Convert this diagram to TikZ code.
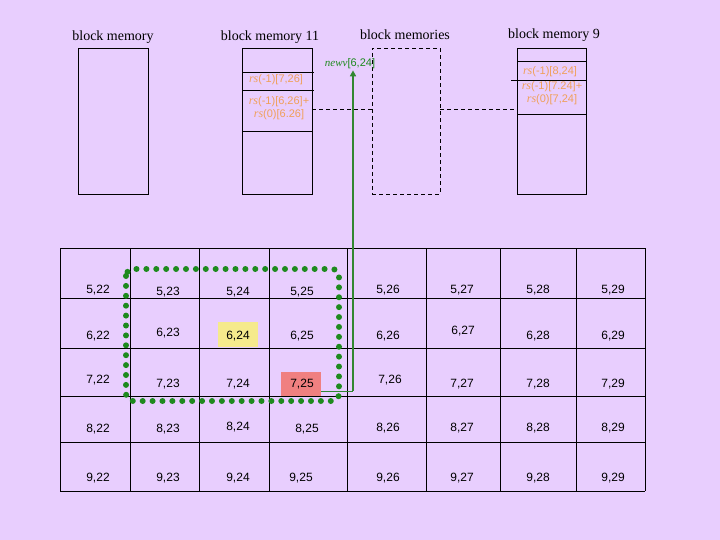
\documentclass[tikz,border=0pt]{standalone}
\usepackage{fontspec}
\setmainfont{Liberation Serif}
\newfontfamily\cellfont{Liberation Sans}
\usetikzlibrary{arrows.meta}
\definecolor{bgc}{RGB}{232,206,254}
\definecolor{orng}{RGB}{240,160,90}
\definecolor{grn}{RGB}{30,138,30}
\definecolor{grnline}{RGB}{50,135,50}
\definecolor{ylw}{RGB}{245,234,140}
\definecolor{redc}{RGB}{240,128,128}
\begin{document}
\begin{tikzpicture}[x=1pt,y=-1pt,
  title/.style={font=\fontsize{14}{14}\selectfont, inner sep=0pt},
  cell/.style={font=\cellfont\fontsize{12}{12}\selectfont, inner sep=0pt},
  orng/.style={text=orng, font=\fontsize{12}{13}\selectfont, inner sep=0pt, align=center},
  blk/.style={draw=black, line width=0.8pt},
  dblk/.style={draw=black, line width=0.8pt, dash pattern=on 4pt off 3pt},
  hl/.style={minimum width=40pt, inner sep=0pt}
]
\fill[bgc] (0,0) rectangle (720,540);
\useasboundingbox (0,0) rectangle (720,540);

% top titles
\node[title] (t1) at (113,37) {block memory};
\node[title] (t2) at (270,37) {block memory 11};
\node[title] (t3) at (405,35) {block memories};
\node[title] (t4) at (554,35) {block memory 9};

% blocks
\node[blk, minimum width=70pt, minimum height=146pt, inner sep=0pt] (b1) at (113,121) {};
\node[blk, minimum width=70pt, minimum height=146pt, inner sep=0pt] (b2) at (277,121) {};
\node[dblk, minimum width=68pt, minimum height=146pt, inner sep=0pt] (b3) at (406,121) {};
\node[blk, minimum width=69pt, minimum height=146pt, inner sep=0pt] (b4) at (551.5,121) {};

% separators block 11
\draw[line width=0.8pt] (242,72) -- (314,72);
\draw[line width=0.8pt] (242,90) -- (314,90);
\draw[line width=0.8pt] (242,131) -- (312,131);
% separators block 9
\draw[line width=0.8pt] (517,61) -- (586,61);
\draw[line width=0.8pt] (511,80) -- (586,80);
\draw[line width=0.8pt] (517,114) -- (586,114);

% orange texts
\node[orng] (o1) at (276,80) {\textit{rs}{\cellfont\fontsize{11}{12}\selectfont(-1)[7,26]}};
\node[orng] (o2) at (279,108) {\textit{rs}{\cellfont\fontsize{11}{12}\selectfont(-1)[6,26]+}\\\textit{rs}{\cellfont\fontsize{11}{12}\selectfont(0)[6.26]}};
\node[orng] (o3) at (550,72) {\textit{rs}{\cellfont\fontsize{11}{12}\selectfont(-1)[8,24]}};
\node[orng] (o4) at (552,93) {\textit{rs}{\cellfont\fontsize{11}{12}\selectfont(-1)[7.24]+}\\\textit{rs}{\cellfont\fontsize{11}{12}\selectfont(0)[7,24]}};

% dashed links
\coordinate (d1) at (312,109);
\coordinate (d2) at (372,109);
\coordinate (d3) at (440,109);
\coordinate (d4) at (517,109);
\draw[dblk] (d1) -- (d2);
\draw[dblk] (d3) -- (d4);

% grid
\foreach \yy in {248,298,348,396,442,491}
  \draw[line width=0.9pt] (60,\yy) -- (645,\yy);
\foreach \xx in {60,130,199,269,347,426,500,576,645}
  \draw[line width=0.9pt] (\xx,248) -- (\xx,491);

% highlights
\fill[ylw] (218,322) rectangle (258,347);
\fill[redc] (281,372) rectangle (321,396);

% cell labels
\foreach \r/\c/\xx/\yy in {
  5/22/98/290, 5/23/168/292, 5/24/238/292, 5/25/302/292, 5/26/388/290, 5/27/462/290, 5/28/538/290, 5/29/613/290,
  6/22/98/336, 6/23/168/333, 6/24/238/336, 6/25/302/336, 6/26/388/336, 6/27/463/331, 6/28/538/336, 6/29/613/336,
  7/22/98/380, 7/23/168/384, 7/24/238/384, 7/25/302/384, 7/26/390/380, 7/27/462/384, 7/28/538/384, 7/29/613/384,
  8/22/98/429, 8/23/168/429, 8/24/238/427, 8/25/307/429, 8/26/388/428, 8/27/462/428, 8/28/538/428, 8/29/613/428,
  9/22/98/478, 9/23/168/478, 9/24/238/478, 9/25/301/478, 9/26/388/478, 9/27/462/478, 9/28/538/478, 9/29/613/478}
  \node[cell] (c\r\c) at (\xx,\yy) {\r,\c};

% dotted window
\draw[grn, line width=6pt, line cap=round, dash pattern=on 0pt off 9.9pt, rounded corners=7pt]
  (126,269) rectangle (339,401);

% green connector
\node[hl, minimum height=24pt] (src) at (301,384) {};
\coordinate (corner) at (353,391);
\node[inner sep=1pt, text=grn, font=\fontsize{11}{12}\selectfont] (newv) at (350,64) {\textit{newv}{\cellfont[6,24]}};
\draw[grnline, line width=1pt] (src.east |- corner) -- (corner);
\draw[grnline, line width=2pt, -{Triangle[width=6pt,length=6pt]}] (corner) -- (corner |- newv.south);
\end{tikzpicture}
\end{document}
